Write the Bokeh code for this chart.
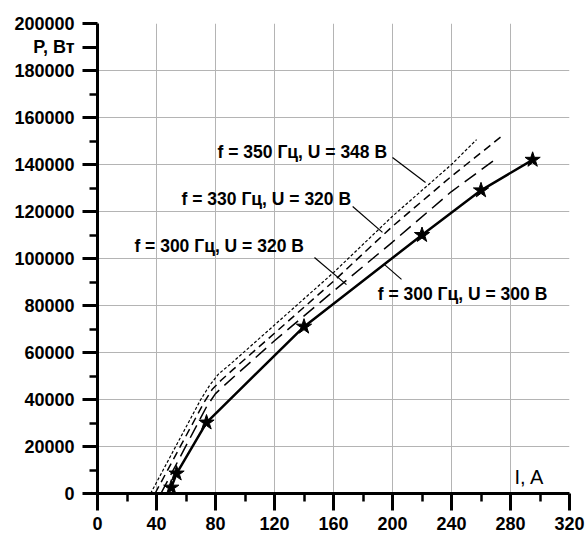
from bokeh.plotting import figure
from bokeh.models import Range1d, FixedTicker, BasicTickFormatter, Label
from bokeh.embed import file_html
from bokeh.resources import INLINE

# axis ticks
x_ticks = [0, 40, 80, 120, 160, 200, 240, 280, 320]
x_minor = [20, 60, 100, 140, 180, 220, 260, 300]
y_ticks = [0, 20000, 40000, 60000, 80000, 100000, 120000, 140000, 160000, 180000, 200000]
y_minor = [10000, 30000, 50000, 70000, 90000, 110000, 130000, 150000, 170000, 190000]
y_name_at = 190000
y_name = "P, Вт"
x_name = "I, A"

# series: current I (A) and power P (W)
i_350_348 = [36, 70, 76, 82, 90, 120, 160, 200, 240, 257]
p_350_348 = [0, 40000, 46000, 50800, 55000, 71700, 94000, 118000, 140000, 150600]

i_330_320 = [39, 72, 78, 84, 92, 120, 160, 200, 240, 274.6]
p_330_320 = [0, 38500, 44500, 48300, 52800, 68200, 90300, 113700, 135000, 152300]

i_300_320 = [43, 74, 80, 86, 94, 120, 160, 200, 240, 270.5]
p_300_320 = [0, 37000, 42500, 46000, 50500, 65000, 86100, 107000, 128500, 142500]

i_300_300 = [50, 53.6, 73.9, 140, 220, 260, 295]
p_300_300 = [2500, 8500, 30200, 71000, 110000, 129000, 142000]

labels = ["f = 350 Гц, U = 348 В", "f = 330 Гц, U = 320 В",
          "f = 300 Гц, U = 320 В", "f = 300 Гц, U = 300 В"]

# annotation placement (data coordinates)
label_pos = [(81.4, 145500), (57, 125500), (25, 105500), (190, 84700)]
leaders = [((200, 143000), (222.4, 132300)),
           ((173, 122100), (193.2, 111100)),
           ((147.1, 100400), (168.8, 88900)),
           ((206.1, 91100), (194.6, 97400))]

FONT = "Liberation Sans"

p = figure(width=585, height=536, x_range=Range1d(0, 320), y_range=Range1d(0, 200000),
           output_backend="svg", toolbar_location=None,
           min_border_left=97, min_border_right=16, min_border_top=23, min_border_bottom=43)
p.outline_line_color = None
p.background_fill_color = "white"
p.border_fill_color = "white"

p.xaxis.ticker = FixedTicker(ticks=x_ticks, minor_ticks=x_minor)
# the y-axis name sits in the tick-label column, between 180000 and 200000
p.yaxis.ticker = FixedTicker(ticks=sorted(y_ticks + [y_name_at]),
                             minor_ticks=[v for v in y_minor if v != y_name_at])
p.yaxis.formatter = BasicTickFormatter(use_scientific=False)
p.yaxis.major_label_overrides = {y_name_at: y_name}

for ax in (p.xaxis[0], p.yaxis[0]):
    ax.axis_line_width = 3
    ax.axis_line_color = "black"
    ax.major_tick_line_width = 3
    ax.minor_tick_line_width = 2.5
    ax.major_tick_line_color = "black"
    ax.minor_tick_line_color = "black"
    ax.major_tick_in = 0
    ax.minor_tick_in = 0
    ax.minor_tick_out = 8
    ax.major_label_text_font = FONT
    ax.major_label_text_font_style = "bold"
    ax.major_label_text_font_size = "18px"
    ax.major_label_text_color = "black"

p.xaxis.major_tick_out = 17
p.xaxis.major_label_standoff = 6
p.yaxis.major_tick_out = 15
p.yaxis.major_label_standoff = 8

p.xgrid.ticker = FixedTicker(ticks=x_ticks)
p.ygrid.ticker = FixedTicker(ticks=y_ticks)
for g in (p.xgrid[0], p.ygrid[0]):
    g.grid_line_color = "#b4b4b4"
    g.grid_line_width = 1

p.line(i_350_348, p_350_348, line_color="black", line_width=1.2, line_dash="3 2")
p.line(i_330_320, p_330_320, line_color="black", line_width=1.5, line_dash="8 5")
p.line(i_300_320, p_300_320, line_color="black", line_width=1.5, line_dash="14 7")
p.line(i_300_300, p_300_300, line_color="black", line_width=2.5)
p.scatter(i_300_300, p_300_300, marker="star", size=16, fill_color="black", line_color="black")

for (x0, y0), (x1, y1) in leaders:
    p.line([x0, x1], [y0, y1], line_color="black", line_width=1.2)

for txt, (lx, ly) in zip(labels, label_pos):
    p.add_layout(Label(x=lx, y=ly, text=txt, text_font=FONT, text_font_style="bold",
                       text_font_size="17.5px", text_align="left", text_baseline="middle",
                       text_color="black"))

p.add_layout(Label(x=282.7, y=7200, text=x_name, text_font=FONT, text_font_size="20px",
                   text_align="left", text_baseline="middle", text_color="black"))

open("out.html", "w").write(file_html(p, INLINE))
